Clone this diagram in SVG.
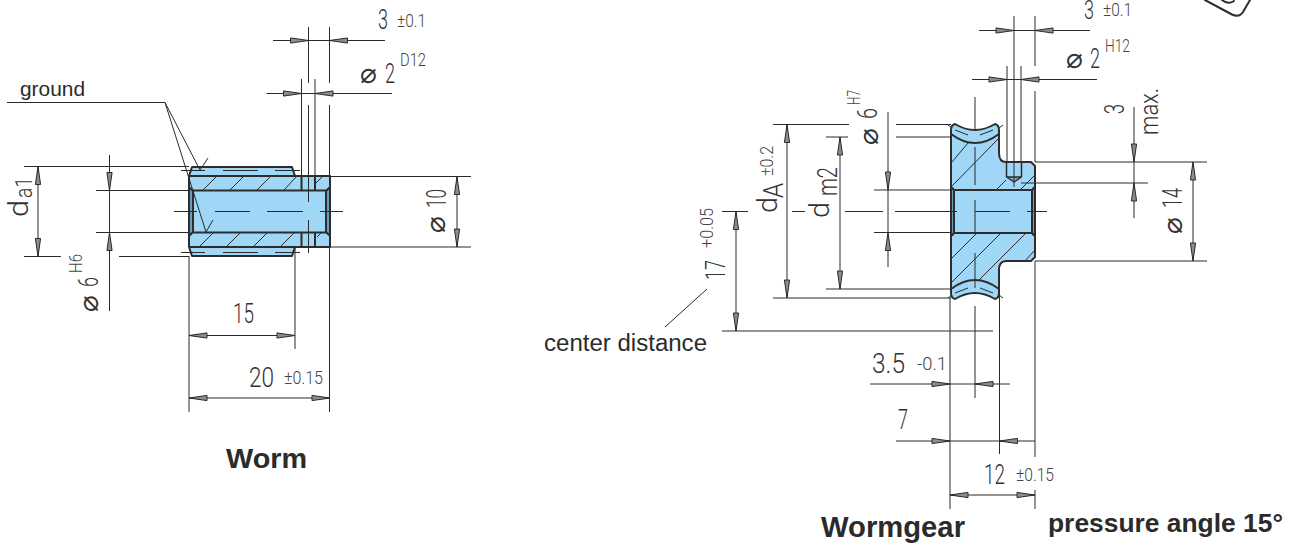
<svg xmlns="http://www.w3.org/2000/svg" xmlns:xlink="http://www.w3.org/1999/xlink" width="1298" height="545" viewBox="0 0 1298 545">
<style>
.f{fill:#a1d7f6;stroke:none}
.s{fill:#6d9dbb;stroke:none}
.o{fill:none;stroke:#2d2d2d;stroke-width:2;stroke-linejoin:round;stroke-linecap:round}
.t{fill:none;stroke:#2a2a2a;stroke-width:1}
.l{font-family:"Liberation Sans",Arial,sans-serif;fill:#2b2b2b}
.b{font-family:"Liberation Sans",Arial,sans-serif;font-weight:700;fill:#2b2b2b}
.d{font-family:Roboto,"Liberation Sans",sans-serif;font-weight:300;font-size:28px;fill:#333}
.m{font-family:Roboto,"Liberation Sans",sans-serif;font-weight:300;font-size:18px;fill:#444}
.p{font-family:"DejaVu Sans ExtraLight","DejaVu Sans",sans-serif;font-size:28px;fill:#333}
</style>
<defs>
<path id="a" d="M0,0L-18,-2.6L-18,2.6Z" fill="#8c8c8c" stroke="#2a2a2a" stroke-width="1" stroke-linejoin="round"/>
</defs>
<g id="worm">
<path class="f" d="M189,176L192,167H292L295,176H330V247H295L292,256H192L189,247Z"/>
<path class="s" d="M189.500,189H193V234H189.500ZM326,189H330V234H326Z"/>
<path class="t" d="M203,190L217,176M230,190L244,176M257,190L271,176M284,190L297,176M316,183L323,176M199,247L213,233M226,247L240,233M253,247L267,233M280,247L294,233M317,237L321,233"/>
<path class="o" d="M189,176L192,167H292L295,176M189,247L192,256H292L295,247M189,176H330V247H189ZM193,190.500H326V232.500H193ZM189,187L193,191M189,236L193,232M330,187L326,191M330,236L326,232M301.500,176V190.500M315,176V190.500M301.500,232.500V247M315,232.500V247"/>
</g>
<g id="wormgear">
<path class="f" d="M951,130Q951,125 955,124Q975,136 995,124Q999,125 999,130V153Q999,162 1006,162H1031L1035,166V257L1031,261H1006Q999,261 999,270V293Q999,298 995,299Q975,287 955,299Q951,298 951,293Z"/>
<path class="s" d="M951.500,187H954V236H951.500ZM1032,187H1035V236H1032Z"/>
<path d="M1007,177H1021L1014,182Z" fill="#7fa9c4"/>
<path class="t" d="M952,162L968,143M952,186L999,138M997,189L1006,180M1021,189L1034,176M952,258L977,233M952,282L1001,233M979,280L1026,233M1025,261L1034,251"/>
<path class="t" d="M955,130L968,135M980,135L993,130M955,293L968,288M980,288L993,293M948,125L952,128M999,128L1003,125M948,298L952,295M999,295L1003,298"/>
<path class="o" d="M951,130Q951,125 955,124Q975,136 995,124Q999,125 999,130V153Q999,162 1006,162H1031L1035,166V257L1031,261H1006Q999,261 999,270V293Q999,298 995,299Q975,287 955,299Q951,298 951,293Z"/>
<path class="o" d="M951,134Q975,152 999,134M951,289Q975,271 999,289M954,190H1032V233H954ZM951,187L954,190M951,236L954,233M1035,187L1032,190M1035,236L1032,233"/>
<path class="o" style="stroke-width:1.500" d="M1006.500,162V177L1014,182L1021.500,177V162M1007,177H1021"/>
</g>
<g id="connectors">
<path class="t" d="M273,40.500H385M308.500,27V83M308.500,105V202M308.500,220V253M329.500,27V83M329.500,105V176M329.500,247V412M266.500,93.500H392M301.500,79V176M315,79V176"/>
<path class="t" d="M7,102.500H165L200,170M165,102.500L206,232M200,170L208,158M206,232L213,220"/>
<path class="t" d="M181,170.500H205M223,170.500H258M275,170.500H300M181,252.500H205M223,252.500H258M275,252.500H300"/>
<path class="t" d="M174,211.500H197M215,211.500H250M267,211.500H303M320,211.500H343"/>
<path class="t" d="M24,166.500H189M24,256.500H61M119,256.500H189M38,166V256M109.500,155V311M96,190.500H189M96,232.500H189M330,176.500H471M330,247H471M457,176V247M189,256V412M295,247V349M189,335.500H295M189,398H330"/>
<use xlink:href="#a" href="#a" transform="translate(308.500,40.500)"/>
<use xlink:href="#a" href="#a" transform="translate(329.500,40.500) rotate(180)"/>
<use xlink:href="#a" href="#a" transform="translate(301.500,93.500)"/>
<use xlink:href="#a" href="#a" transform="translate(315,93.500) rotate(180)"/>
<use xlink:href="#a" href="#a" transform="translate(38,166.500) rotate(-90)"/>
<use xlink:href="#a" href="#a" transform="translate(38,256.500) rotate(90)"/>
<use xlink:href="#a" href="#a" transform="translate(109.500,190.500) rotate(90)"/>
<use xlink:href="#a" href="#a" transform="translate(109.500,232.500) rotate(-90)"/>
<use xlink:href="#a" href="#a" transform="translate(457,176.500) rotate(-90)"/>
<use xlink:href="#a" href="#a" transform="translate(457,247) rotate(90)"/>
<use xlink:href="#a" href="#a" transform="translate(189,335.500) rotate(180)"/>
<use xlink:href="#a" href="#a" transform="translate(295,335.500)"/>
<use xlink:href="#a" href="#a" transform="translate(189,398) rotate(180)"/>
<use xlink:href="#a" href="#a" transform="translate(330,398)"/>
<path class="t" d="M979,30.500H1090M1014,16V187M1035,16V66M1035,91V162M1035,261V457M1035,490V509M972,79.500H1097M1007,66V162M1021,66V162"/>
<path class="t" d="M1035,162H1207M1021,183H1148M1134,107V218M1035,261H1207M1193,162V261"/>
<path class="t" d="M773,124.500H849M896,124.500H951M773,298H951M787,124V298M826,137H848M896,137H951M826,289H951M840,137V289M888,112V267M874,190H951M874,232.500H951"/>
<path class="t" d="M722,211.500H748M792,211.500H805M845,211.500H883M895,211.500H957M975,211.500H1010M1027,211.500H1047"/>
<path class="t" d="M736,211V331M722,331H993M665,327L707,289"/>
<path class="t" d="M975,97V131M975,147V185M975,200V233M975,253V288M975,306V398M870,384H1010M950,298V509M896,441H1035M999.500,270V454M950,495H1035"/>
<use xlink:href="#a" href="#a" transform="translate(1014,30.500)"/>
<use xlink:href="#a" href="#a" transform="translate(1035,30.500) rotate(180)"/>
<use xlink:href="#a" href="#a" transform="translate(1007,79.500)"/>
<use xlink:href="#a" href="#a" transform="translate(1021,79.500) rotate(180)"/>
<use xlink:href="#a" href="#a" transform="translate(1134,162) rotate(90)"/>
<use xlink:href="#a" href="#a" transform="translate(1134,183) rotate(-90)"/>
<use xlink:href="#a" href="#a" transform="translate(1193,162) rotate(-90)"/>
<use xlink:href="#a" href="#a" transform="translate(1193,261) rotate(90)"/>
<use xlink:href="#a" href="#a" transform="translate(787,124.500) rotate(-90)"/>
<use xlink:href="#a" href="#a" transform="translate(787,298) rotate(90)"/>
<use xlink:href="#a" href="#a" transform="translate(840,137) rotate(-90)"/>
<use xlink:href="#a" href="#a" transform="translate(840,289) rotate(90)"/>
<use xlink:href="#a" href="#a" transform="translate(888,190) rotate(90)"/>
<use xlink:href="#a" href="#a" transform="translate(888,232.500) rotate(-90)"/>
<use xlink:href="#a" href="#a" transform="translate(736,211.500) rotate(-90)"/>
<use xlink:href="#a" href="#a" transform="translate(736,331) rotate(90)"/>
<use xlink:href="#a" href="#a" transform="translate(950,384)"/>
<use xlink:href="#a" href="#a" transform="translate(975,384) rotate(180)"/>
<use xlink:href="#a" href="#a" transform="translate(950,441)"/>
<use xlink:href="#a" href="#a" transform="translate(999.500,441) rotate(180)"/>
<use xlink:href="#a" href="#a" transform="translate(950,495) rotate(180)"/>
<use xlink:href="#a" href="#a" transform="translate(1035,495)"/>
</g>
<g id="stamp-fragment">
<path class="o" d="M1205,0L1232,14.500Q1239,18 1243,12L1250,0M1222,0Q1228,5 1234,1"/>
</g>
<g id="labels">
<text class="l" x="20" y="96" font-size="21" textLength="65" lengthAdjust="spacingAndGlyphs">ground</text>
<text class="l" x="544" y="351" font-size="23" textLength="163" lengthAdjust="spacingAndGlyphs">center distance</text>
<text class="b" x="226" y="468" font-size="28.500" textLength="81" lengthAdjust="spacingAndGlyphs">Worm</text>
<text class="b" x="821" y="537" font-size="29" textLength="144" lengthAdjust="spacingAndGlyphs">Wormgear</text>
<text class="b" x="1048" y="532" font-size="26" textLength="235" lengthAdjust="spacingAndGlyphs">pressure angle 15°</text>
<text class="d" x="378" y="29" textLength="10" lengthAdjust="spacingAndGlyphs">3</text>
<text class="m" x="397" y="27" textLength="29" lengthAdjust="spacingAndGlyphs">±0.1</text>
<text class="p" x="360" y="83">⌀</text>
<text class="d" x="385" y="83" textLength="10" lengthAdjust="spacingAndGlyphs">2</text>
<text class="m" x="400" y="66" textLength="26" lengthAdjust="spacingAndGlyphs">D12</text>
<text class="d" x="233" y="323" textLength="21" lengthAdjust="spacingAndGlyphs">15</text>
<text class="d" x="249" y="387" textLength="25" lengthAdjust="spacingAndGlyphs">20</text>
<text class="m" x="284" y="384" textLength="39" lengthAdjust="spacingAndGlyphs">±0.15</text>
<text class="p" transform="translate(445,233) rotate(-90)">⌀</text>
<text class="d" transform="translate(446,208) rotate(-90)" textLength="19" lengthAdjust="spacingAndGlyphs">10</text>
<text class="p" transform="translate(98,312) rotate(-90)">⌀</text>
<text class="d" transform="translate(98,287) rotate(-90)" textLength="10" lengthAdjust="spacingAndGlyphs">6</text>
<text class="m" transform="translate(82,273) rotate(-90)" textLength="19" lengthAdjust="spacingAndGlyphs">H6</text>
<text class="d" transform="translate(28,217) rotate(-90)" textLength="17" lengthAdjust="spacingAndGlyphs">d</text>
<text class="d" style="font-size:24px" transform="translate(32,198) rotate(-90)" textLength="21" lengthAdjust="spacingAndGlyphs">a1</text>
<text class="d" style="font-size:26px" x="1084" y="19" textLength="10" lengthAdjust="spacingAndGlyphs">3</text>
<text class="m" x="1103" y="16" textLength="29" lengthAdjust="spacingAndGlyphs">±0.1</text>
<text class="p" x="1066" y="68">⌀</text>
<text class="d" x="1090" y="68" textLength="10" lengthAdjust="spacingAndGlyphs">2</text>
<text class="m" x="1105" y="52" textLength="25" lengthAdjust="spacingAndGlyphs">H12</text>
<text class="d" transform="translate(1124,114) rotate(-90)" textLength="10" lengthAdjust="spacingAndGlyphs">3</text>
<text class="d" style="font-size:26px" transform="translate(1158,135) rotate(-90)" textLength="47" lengthAdjust="spacingAndGlyphs">max.</text>
<text class="p" transform="translate(1182,234) rotate(-90)">⌀</text>
<text class="d" transform="translate(1182,208) rotate(-90)" textLength="20" lengthAdjust="spacingAndGlyphs">14</text>
<text class="d" transform="translate(777,213) rotate(-90)" textLength="16" lengthAdjust="spacingAndGlyphs">d</text>
<text class="d" transform="translate(783,198) rotate(-90)" textLength="15" lengthAdjust="spacingAndGlyphs">A</text>
<text class="m" transform="translate(773,176) rotate(-90)" textLength="30" lengthAdjust="spacingAndGlyphs">±0.2</text>
<text class="d" transform="translate(829,218) rotate(-90)" textLength="16" lengthAdjust="spacingAndGlyphs">d</text>
<text class="d" transform="translate(837,196) rotate(-90)" textLength="29" lengthAdjust="spacingAndGlyphs">m2</text>
<text class="p" transform="translate(878,145) rotate(-90)">⌀</text>
<text class="d" transform="translate(877,119) rotate(-90)" textLength="11" lengthAdjust="spacingAndGlyphs">6</text>
<text class="m" transform="translate(860,105) rotate(-90)" textLength="15" lengthAdjust="spacingAndGlyphs">H7</text>
<text class="d" transform="translate(725,280) rotate(-90)" textLength="20" lengthAdjust="spacingAndGlyphs">17</text>
<text class="m" transform="translate(713,248) rotate(-90)" textLength="40" lengthAdjust="spacingAndGlyphs">+0.05</text>
<text class="d" x="872" y="373" textLength="33" lengthAdjust="spacingAndGlyphs">3.5</text>
<text class="m" x="917" y="370" textLength="30" lengthAdjust="spacingAndGlyphs">-0.1</text>
<text class="d" x="898" y="429" textLength="10" lengthAdjust="spacingAndGlyphs">7</text>
<text class="d" x="984" y="484" textLength="21" lengthAdjust="spacingAndGlyphs">12</text>
<text class="m" x="1016" y="481" textLength="38" lengthAdjust="spacingAndGlyphs">±0.15</text>
</g>
</svg>
